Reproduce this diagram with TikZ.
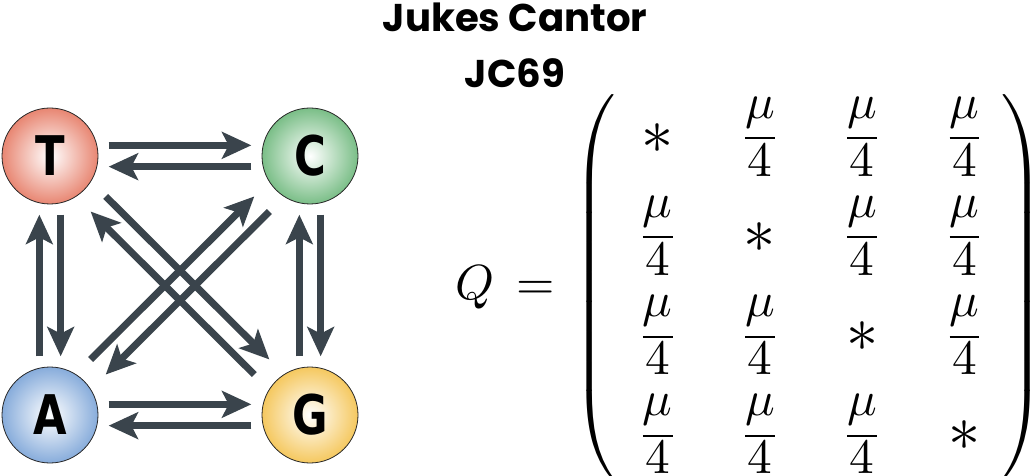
\documentclass[tikz,border=0pt]{standalone}
\usepackage{amsmath}
\usepackage{fontspec}
\newfontfamily\titlefont{Poppins}
\newfontfamily\nucfont{DejaVu Sans Condensed}[FakeStretch=0.88]
\usetikzlibrary{arrows.meta,calc}

\definecolor{flowgray}{RGB}{58,68,76}
\definecolor{tred}{RGB}{232,134,114}
\definecolor{cgreen}{RGB}{122,190,135}
\definecolor{ablue}{RGB}{135,172,219}
\definecolor{gyellow}{RGB}{245,200,95}

% one entry of the rate matrix
\newcommand\rate{\frac{\displaystyle\mu\rule[-0.35em]{0pt}{0.35em}}{\displaystyle\rule{0pt}{0.71em}4}}
\newcommand\diag{\mathord{\vcenter{\hbox{\scalebox{1.3}{$*$}}}}}
\newcommand\rowstrut{\rule[-7.55pt]{0pt}{20.1pt}}

\tikzset{
  nuc/.style={circle, draw=black!85, line width=0.6pt, minimum size=72pt, inner sep=0pt,
    shading=radial, inner color=white, outer color=#1,
    font=\nucfont\bfseries\fontsize{41}{41}\selectfont},
  flow/.style={draw=flowgray, line width=5.25pt,
    -{Stealth[length=22pt,width=20pt,inset=5pt]},
    to path={($(\tikztostart)!#1!(\tikztotarget)!8pt!90:(\tikztotarget)$)
      -- ($(\tikztotarget)!#1!(\tikztostart)!8pt!-90:(\tikztostart)$)}},
  flow/.default=44pt
}

\begin{document}
\begin{tikzpicture}[x=0.75pt,y=0.75pt]
	\useasboundingbox (0,0) rectangle (1031,475);
	% the four bases
	\node[nuc=tred] (T) at (50,319) {T};
	\node[nuc=cgreen] (C) at (310,319) {C};
	\node[nuc=ablue] (A) at (50,60) {A};
	\node[nuc=gyellow] (G) at (310,60) {G};
	% substitutions, all with the same rate
	\draw[flow] (T) to (C);
	\draw[flow] (C) to (T);
	\draw[flow] (A) to (G);
	\draw[flow] (G) to (A);
	\draw[flow] (T) to (A);
	\draw[flow] (A) to (T);
	\draw[flow] (C) to (G);
	\draw[flow] (G) to (C);
	\draw[flow=51pt] (T) to (G);
	\draw[flow=51pt] (G) to (T);
	\draw[flow=51pt] (A) to (C);
	\draw[flow=51pt] (C) to (A);
	% title
	\node[anchor=base, font=\titlefont\bfseries\fontsize{29}{35}\selectfont] (name) at (515,443) {Jukes Cantor};
	\node[anchor=base, font=\titlefont\bfseries\fontsize{29}{35}\selectfont] (short) at (515,387) {JC69};
	% rate matrix
	\node[anchor=west, inner sep=0pt, scale=3.7, transform shape] (Q) at (455,188) {%
		\renewcommand\arraystretch{0}\setlength\arraycolsep{6.15pt}%
		$Q\hspace{1.5pt} = \hspace{0.9pt}\left(\begin{array}{@{\hspace{4.3pt}}cccc@{\hspace{3.2pt}}}
			\diag & \rate & \rate & \rate\rowstrut \\
			\rate & \diag & \rate & \rate\rowstrut \\
			\rate & \rate & \diag & \rate\rowstrut \\
			\rate & \rate & \rate & \diag\rowstrut
		\end{array}\right)$};
\end{tikzpicture}
\end{document}
